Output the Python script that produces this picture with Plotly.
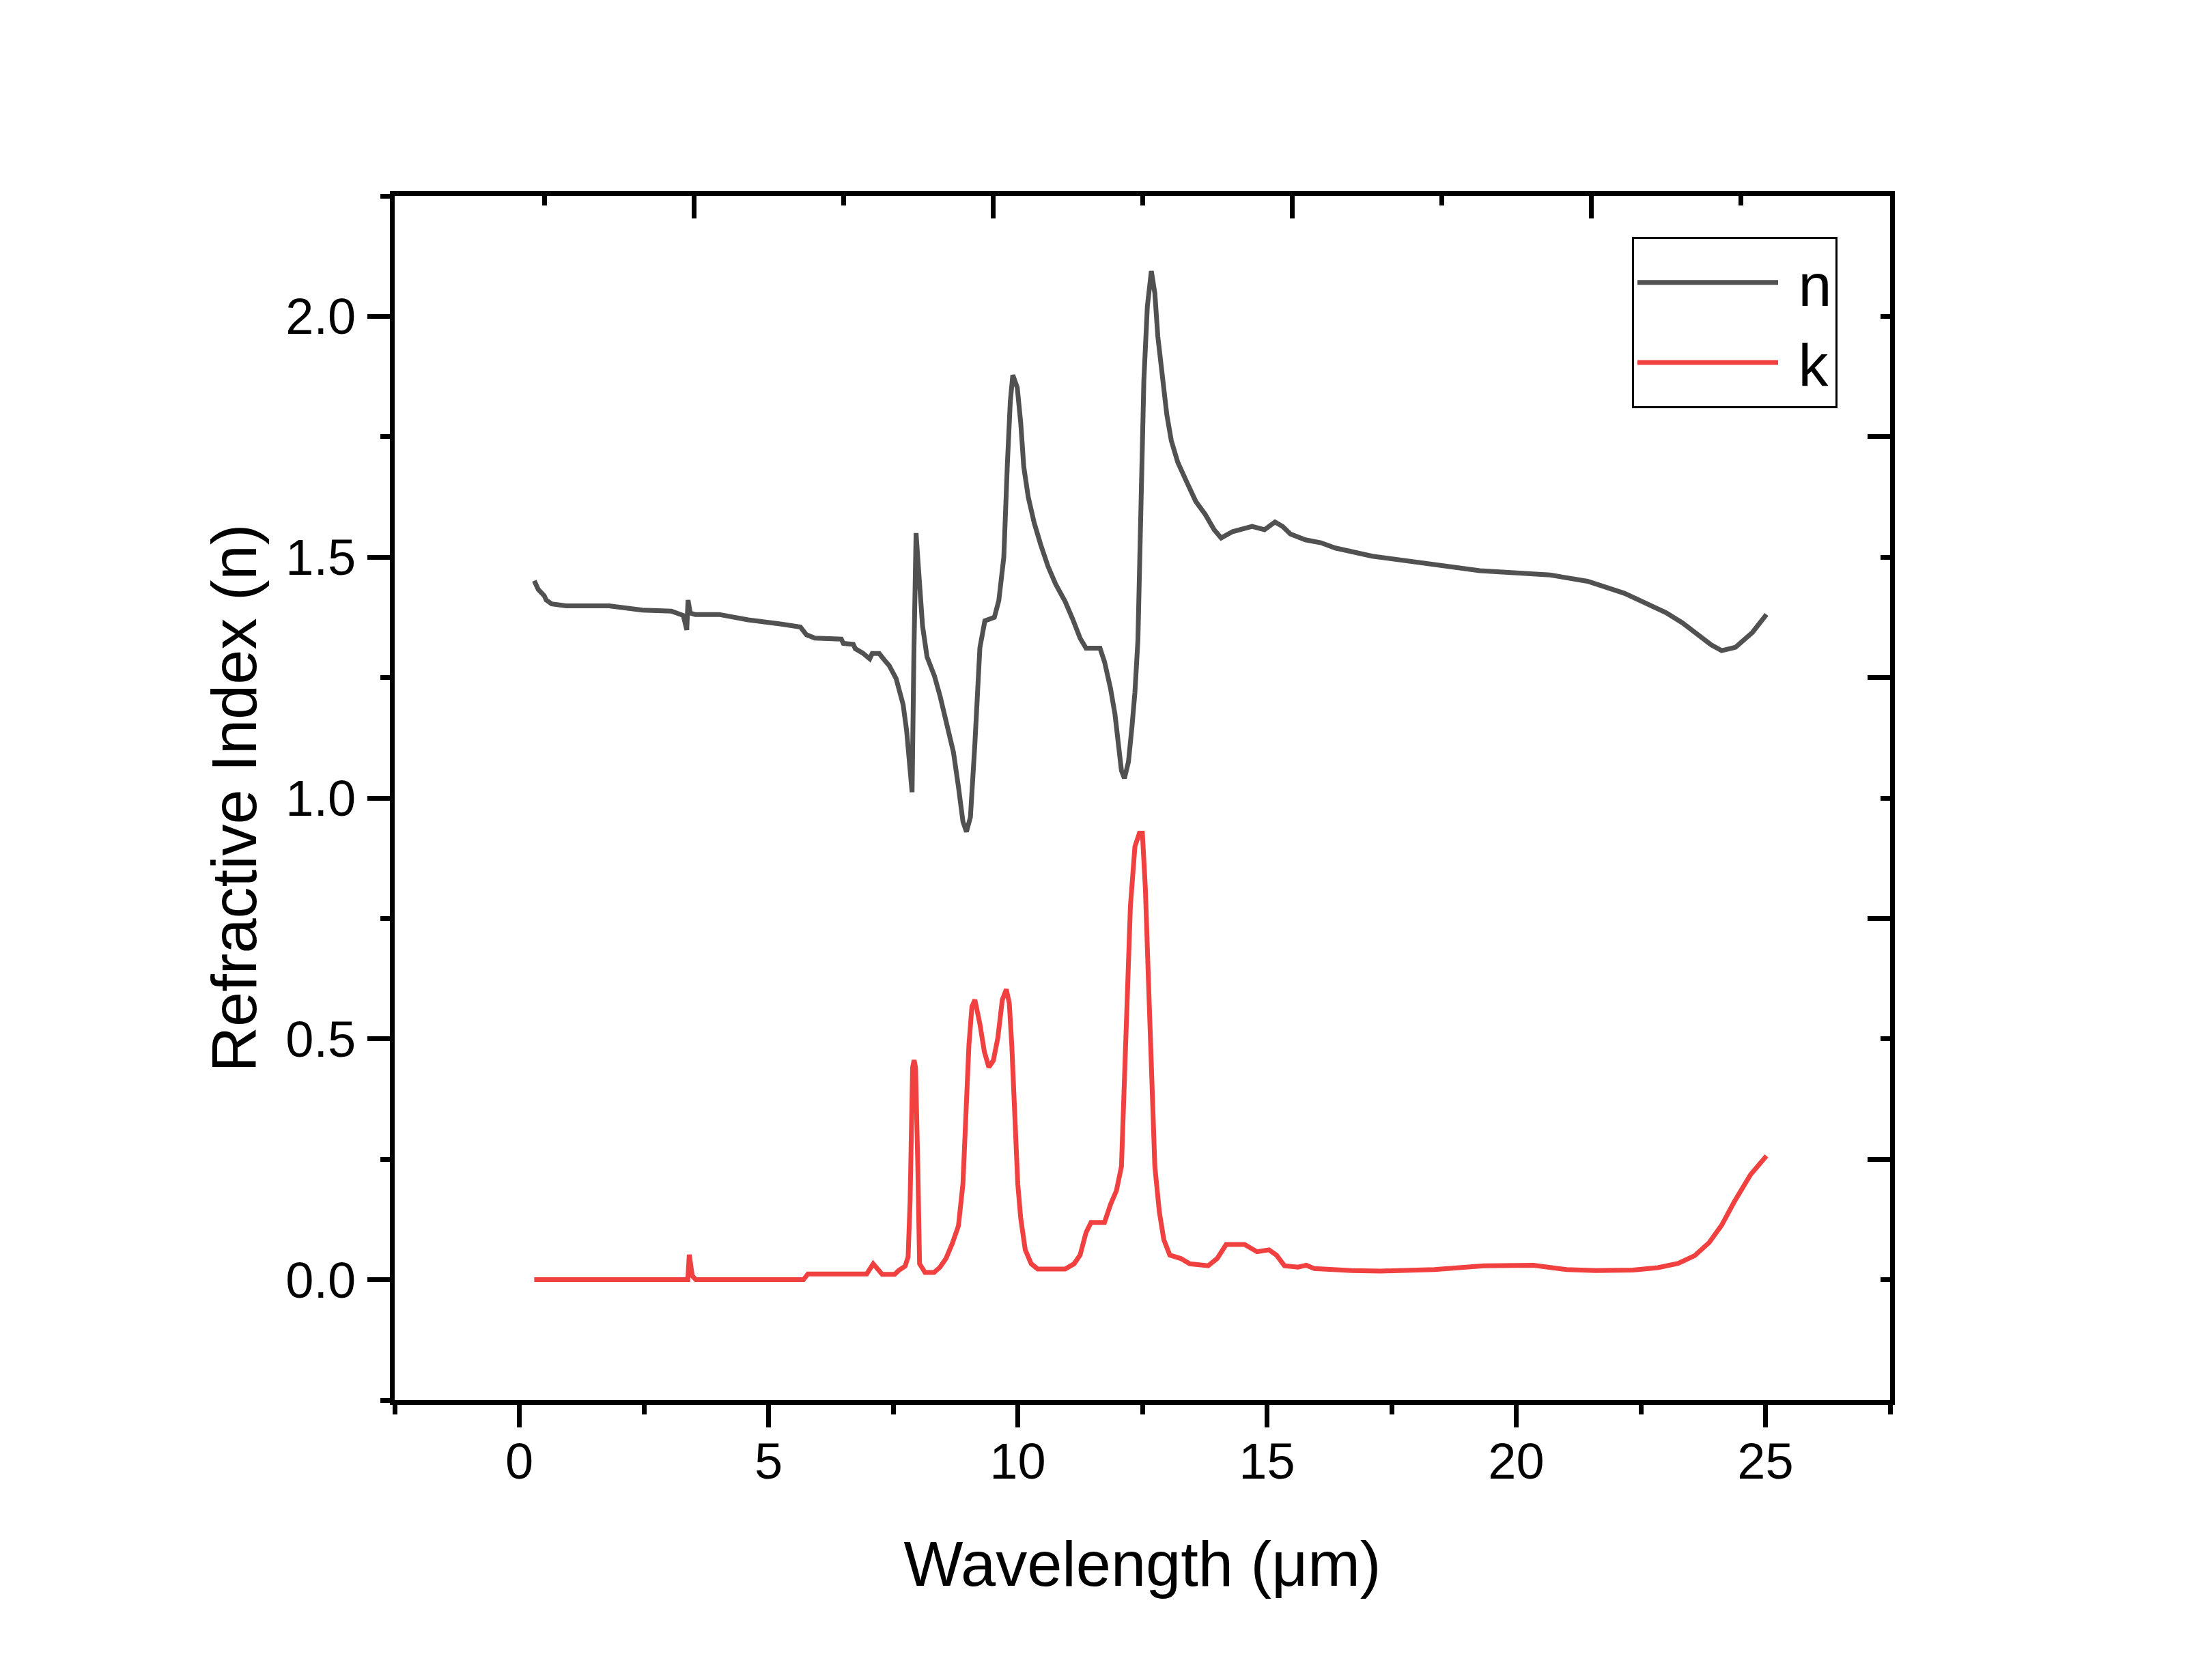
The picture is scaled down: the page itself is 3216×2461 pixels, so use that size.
import plotly.graph_objects as go

# wavelength (um) and refractive index n
wl_n = [0.30, 0.38, 0.50, 0.54, 0.65, 0.94, 1.80, 2.19, 2.47, 3.05, 3.29, 3.36, 3.385,
        3.43, 3.53, 4.01, 4.59, 5.26, 5.64, 5.76, 5.93, 6.46, 6.50, 6.70, 6.74, 6.89,
        7.03, 7.08, 7.22, 7.32, 7.42, 7.56, 7.70, 7.77, 7.83, 7.88, 7.915, 7.96, 8.01,
        8.09, 8.18, 8.33, 8.44, 8.57, 8.71, 8.81, 8.90, 8.97, 9.05, 9.14, 9.24, 9.34,
        9.53, 9.62, 9.72, 9.79, 9.85, 9.90, 9.99, 10.06, 10.12, 10.21, 10.33, 10.46,
        10.61, 10.76, 10.95, 11.10, 11.25, 11.37, 11.65, 11.74, 11.86, 11.95, 12.01,
        12.08, 12.14, 12.22, 12.29, 12.35, 12.41, 12.46, 12.49, 12.53, 12.60, 12.68,
        12.75, 12.81, 12.90, 12.99, 13.08, 13.21, 13.39, 13.57, 13.76, 13.94, 14.08,
        14.31, 14.70, 14.95, 15.16, 15.31, 15.47, 15.77, 16.08, 16.37, 17.11, 18.03,
        19.27, 20.68, 21.43, 22.17, 23.00, 23.33, 23.91, 24.12, 24.40, 24.74, 25.02]
n_vals = [1.451, 1.433, 1.420, 1.411, 1.403, 1.399, 1.399, 1.393, 1.390, 1.388, 1.379,
          1.349, 1.411, 1.384, 1.381, 1.381, 1.370, 1.361, 1.355, 1.339, 1.332, 1.330,
          1.321, 1.319, 1.310, 1.301, 1.289, 1.300, 1.300, 1.287, 1.275, 1.248, 1.194,
          1.140, 1.059, 1.012, 1.293, 1.550, 1.474, 1.357, 1.293, 1.253, 1.212, 1.158,
          1.095, 1.023, 0.951, 0.930, 0.960, 1.113, 1.312, 1.368, 1.375, 1.410, 1.500,
          1.690, 1.823, 1.878, 1.852, 1.778, 1.688, 1.625, 1.571, 1.526, 1.480, 1.444,
          1.408, 1.372, 1.332, 1.311, 1.311, 1.283, 1.228, 1.174, 1.111, 1.057, 1.041,
          1.075, 1.147, 1.219, 1.327, 1.508, 1.688, 1.868, 2.021, 2.094, 2.048, 1.958,
          1.868, 1.796, 1.742, 1.697, 1.656, 1.616, 1.589, 1.557, 1.540, 1.553, 1.564,
          1.557, 1.573, 1.564, 1.548, 1.536, 1.530, 1.519, 1.502, 1.489, 1.472, 1.463,
          1.450, 1.425, 1.385, 1.364, 1.318, 1.306, 1.313, 1.344, 1.381]

# wavelength (um) and extinction coefficient k
wl_k = [0.30, 3.30, 3.38, 3.41, 3.47, 3.54, 5.70, 5.79, 6.97, 7.10, 7.22, 7.28, 7.53,
        7.62, 7.74, 7.80, 7.84, 7.89, 7.92, 7.95, 7.995, 8.03, 8.14, 8.32, 8.44, 8.56, 8.69,
        8.81, 8.90, 8.96, 9.02, 9.08, 9.14, 9.24, 9.33, 9.42, 9.51, 9.60, 9.69, 9.77,
        9.83, 9.88, 9.94, 10.00, 10.06, 10.15, 10.27, 10.40, 10.95, 11.13, 11.25, 11.37,
        11.47, 11.74, 11.86, 11.98, 12.08, 12.14, 12.20, 12.26, 12.35, 12.44, 12.50,
        12.56, 12.63, 12.69, 12.75, 12.84, 12.93, 13.05, 13.27, 13.45, 13.82, 14.00,
        14.18, 14.55, 14.80, 15.04, 15.19, 15.35, 15.62, 15.79, 15.95, 16.70, 17.28,
        18.36, 19.35, 20.35, 21.01, 21.59, 22.34, 22.84, 23.25, 23.58, 23.87, 24.12,
        24.37, 24.70, 25.02]
k_vals = [0.000, 0.000, 0.000, 0.052, 0.008, 0.000, 0.000, 0.012, 0.012, 0.033, 0.016,
          0.011, 0.011, 0.020, 0.028, 0.047, 0.163, 0.440, 0.456, 0.440, 0.235, 0.033, 0.015,
          0.015, 0.026, 0.044, 0.076, 0.112, 0.199, 0.343, 0.487, 0.567, 0.581, 0.531,
          0.473, 0.441, 0.455, 0.502, 0.581, 0.603, 0.574, 0.487, 0.343, 0.199, 0.127,
          0.062, 0.033, 0.022, 0.022, 0.033, 0.051, 0.098, 0.119, 0.119, 0.156, 0.185,
          0.235, 0.415, 0.596, 0.776, 0.899, 0.927, 0.927, 0.812, 0.596, 0.379, 0.235,
          0.141, 0.083, 0.051, 0.044, 0.033, 0.029, 0.044, 0.073, 0.073, 0.058, 0.062,
          0.051, 0.029, 0.026, 0.030, 0.023, 0.019, 0.018, 0.021, 0.029, 0.030, 0.021,
          0.019, 0.020, 0.025, 0.034, 0.050, 0.077, 0.113, 0.161, 0.218, 0.257]

font = "Liberation Sans, Arial, sans-serif"

fig = go.Figure()
fig.add_trace(go.Scatter(x=wl_n, y=n_vals, mode="lines", name="\u00a0n",
                         line=dict(color="#515151", width=7)))
# k drawn on the mirrored top/right axes (same ranges) so those axes get rendered
fig.add_trace(go.Scatter(x=wl_k, y=k_vals, mode="lines", name="\u00a0k",
                         xaxis="x2", yaxis="y2",
                         line=dict(color="#F14040", width=7)))

axis_common = dict(showline=True, linecolor="black", linewidth=7, showgrid=False,
                   zeroline=False, tickcolor="black", tickwidth=7, ticklen=33)
minor_out = dict(ticks="outside", ticklen=14, tickwidth=7, tickcolor="black")
minor_in = dict(ticks="inside", ticklen=14, tickwidth=7, tickcolor="black")

# page body has an 8px margin, so the figure is 8px smaller than the window
fig.update_layout(
    width=3208, height=2453,
    margin=dict(l=570, r=448, t=279, b=410),
    plot_bgcolor="white", paper_bgcolor="white",
    font=dict(family=font, color="black", size=74),
    xaxis=dict(axis_common, range=[-2.5, 27.5], ticks="outside", tick0=0, dtick=5,
               minor=dict(minor_out, tick0=0, dtick=2.5),
               tickfont=dict(size=74), ticklabelstandoff=-14,
               title=dict(text="Wavelength (μm)", font=dict(size=92), standoff=80)),
    yaxis=dict(axis_common, range=[-0.25, 2.25], ticks="outside", tick0=0, dtick=0.5,
               tickformat=".1f",
               minor=dict(minor_out, tick0=0, dtick=0.25),
               tickfont=dict(size=74), ticklabelstandoff=2,
               title=dict(text="Refractive Index (n)", font=dict(size=92), standoff=15)),
    xaxis2=dict(axis_common, overlaying="x", side="top", anchor="y",
                range=[-2.5, 27.5], ticks="inside", tick0=-2.5, dtick=6,
                minor=dict(minor_in, tick0=-2.5, dtick=3),
                showticklabels=False),
    yaxis2=dict(axis_common, overlaying="y", side="right", anchor="x",
                range=[-0.25, 2.25], ticks="inside", tick0=-0.25, dtick=0.5,
                minor=dict(minor_in, tick0=-0.25, dtick=0.25),
                showticklabels=False),
    legend=dict(x=0.8274, y=0.966, xanchor="left", yanchor="top",
                bgcolor="white", bordercolor="black", borderwidth=3,
                font=dict(size=88), itemwidth=206, tracegroupgap=0),
    showlegend=True,
)

fig.write_html("out.html")
